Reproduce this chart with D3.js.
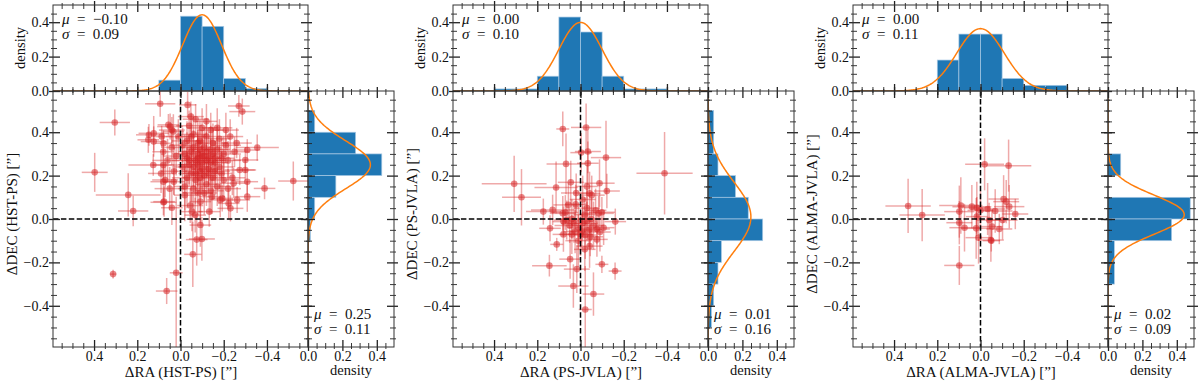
<!DOCTYPE html>
<html>
<head>
<meta charset="utf-8">
<title>Astrometric offsets</title>
<script src="https://cdn.jsdelivr.net/npm/d3@7"></script>
<style>
  body { margin: 0; background: #fff; }
  text { font-family: "Liberation Serif", "DejaVu Serif", serif; fill: #111; }
</style>
</head>
<body>
<svg id="mainsvg" width="1200" height="385"></svg>
<script>
// offsets: [dRA, dDEC, errRA, errDEC] in arcsec
const hstPs = [
  [0.304, 0.445, 0.070, 0.060], [0.397, 0.215, 0.060, 0.090], [0.242, 0.111, 0.150, 0.100],
  [0.219, 0.037, 0.070, 0.070], [0.312, -0.254, 0.015, 0.020], [0.020, -0.248, 0.030, 0.350],
  [0.064, -0.332, 0.050, 0.060], [-0.522, 0.175, 0.070, 0.090], [-0.389, 0.141, 0.050, 0.050],
  [-0.355, 0.329, 0.100, 0.060], [-0.309, 0.318, 0.060, 0.050], [-0.286, 0.495, 0.060, 0.060],
  [-0.270, 0.521, 0.050, 0.050], [0.094, 0.531, 0.070, 0.060], [-0.033, 0.526, 0.040, 0.060],
  [-0.048, 0.472, 0.060, 0.070], [0.056, 0.434, 0.050, 0.050], [0.040, 0.410, 0.060, 0.060],
  [0.124, 0.395, 0.070, 0.080], [0.087, 0.380, 0.050, 0.050], [0.124, 0.357, 0.060, 0.070],
  [0.079, 0.349, 0.040, 0.060], [0.146, 0.388, 0.060, 0.050], [0.149, 0.365, 0.050, 0.060],
  [0.033, 0.403, 0.050, 0.080], [0.048, 0.426, 0.060, 0.060], [0.126, 0.249, 0.115, 0.050],
  [0.079, 0.249, 0.050, 0.070], [0.079, 0.172, 0.060, 0.080], [0.071, 0.180, 0.060, 0.080],
  [0.031, 0.172, 0.050, 0.060], [0.076, 0.080, 0.050, 0.070], [0.079, 0.077, 0.060, 0.060],
  [0.040, 0.052, 0.050, 0.080], [-0.274, 0.226, 0.070, 0.070], [-0.309, 0.172, 0.050, 0.060],
  [-0.300, 0.226, 0.050, 0.050], [-0.300, 0.272, 0.060, 0.060], [-0.246, 0.165, 0.060, 0.070],
  [-0.223, 0.072, 0.050, 0.070], [-0.193, 0.095, 0.050, 0.060], [-0.309, 0.103, 0.060, 0.070],
  [-0.262, 0.088, 0.060, 0.060], [-0.231, 0.049, 0.060, 0.060], [-0.184, 0.088, 0.060, 0.080],
  [-0.146, 0.103, 0.060, 0.080], [-0.133, 0.034, 0.050, 0.070], [-0.092, 0.080, 0.050, 0.100],
  [-0.053, 0.034, 0.050, 0.090], [-0.045, 0.062, 0.060, 0.080], [-0.068, 0.018, 0.050, 0.080],
  [-0.092, -0.028, 0.050, 0.100], [-0.099, -0.092, 0.060, 0.100], [-0.075, -0.095, 0.050, 0.120],
  [-0.057, -0.163, 0.040, 0.150],
  [-0.020, 0.300, 0.060, 0.090], [-0.040, 0.270, 0.080, 0.120], [-0.060, 0.330, 0.050, 0.080],
  [-0.080, 0.250, 0.090, 0.140], [-0.100, 0.290, 0.060, 0.100], [-0.120, 0.310, 0.070, 0.090],
  [-0.140, 0.260, 0.080, 0.110], [-0.160, 0.280, 0.050, 0.080], [-0.180, 0.240, 0.070, 0.100],
  [-0.050, 0.210, 0.060, 0.130], [-0.070, 0.180, 0.050, 0.110], [-0.090, 0.220, 0.080, 0.090],
  [-0.110, 0.200, 0.060, 0.120], [-0.130, 0.230, 0.070, 0.080], [-0.150, 0.190, 0.050, 0.100],
  [-0.030, 0.360, 0.070, 0.090], [-0.060, 0.390, 0.060, 0.080], [-0.090, 0.360, 0.080, 0.100],
  [-0.120, 0.380, 0.050, 0.070], [-0.150, 0.350, 0.070, 0.090], [-0.170, 0.320, 0.060, 0.110],
  [-0.200, 0.300, 0.080, 0.080], [-0.220, 0.270, 0.060, 0.090], [-0.190, 0.210, 0.050, 0.100],
  [-0.210, 0.340, 0.070, 0.070], [-0.010, 0.240, 0.050, 0.120], [-0.030, 0.190, 0.070, 0.140],
  [-0.080, 0.300, 0.090, 0.100], [-0.100, 0.260, 0.060, 0.150], [-0.110, 0.330, 0.080, 0.090],
  [-0.130, 0.280, 0.060, 0.120], [-0.070, 0.270, 0.070, 0.080], [-0.050, 0.310, 0.060, 0.110],
  [-0.090, 0.190, 0.080, 0.130], [-0.120, 0.160, 0.050, 0.100], [-0.140, 0.410, 0.060, 0.080],
  [-0.160, 0.220, 0.070, 0.110], [-0.180, 0.370, 0.050, 0.090], [-0.040, 0.430, 0.060, 0.070],
  [-0.100, 0.420, 0.070, 0.090], [-0.020, 0.150, 0.050, 0.110], [-0.060, 0.140, 0.070, 0.130],
  [-0.110, 0.120, 0.060, 0.100], [-0.170, 0.150, 0.080, 0.090], [-0.240, 0.190, 0.060, 0.080],
  [-0.250, 0.310, 0.070, 0.070], [-0.230, 0.380, 0.060, 0.080], [-0.080, 0.350, 0.050, 0.100],
  [-0.140, 0.320, 0.080, 0.110], [-0.060, 0.240, 0.070, 0.090], [-0.100, 0.230, 0.060, 0.100],
  [-0.120, 0.270, 0.090, 0.080], [-0.150, 0.300, 0.060, 0.120], [-0.040, 0.250, 0.050, 0.090],
  [-0.080, 0.280, 0.070, 0.130], [-0.110, 0.290, 0.080, 0.100], [-0.090, 0.320, 0.060, 0.090],
  [-0.130, 0.210, 0.070, 0.110], [-0.070, 0.210, 0.060, 0.080], [-0.160, 0.260, 0.050, 0.100],
  [-0.030, 0.280, 0.080, 0.120], [-0.190, 0.280, 0.060, 0.090], [-0.200, 0.180, 0.070, 0.100],
  [-0.010, 0.340, 0.060, 0.080], [-0.050, 0.380, 0.070, 0.110], [-0.120, 0.450, 0.050, 0.080],
  [-0.070, 0.460, 0.060, 0.070], [-0.170, 0.420, 0.070, 0.090], [-0.210, 0.410, 0.060, 0.080],
  [-0.260, 0.350, 0.070, 0.070], [-0.220, 0.140, 0.060, 0.090], [-0.020, 0.110, 0.050, 0.120],
  [-0.080, 0.120, 0.070, 0.100], [-0.140, 0.130, 0.060, 0.110], [0.020, 0.290, 0.060, 0.090],
  [0.040, 0.330, 0.050, 0.080], [0.060, 0.270, 0.070, 0.100], [0.030, 0.220, 0.060, 0.110],
  [0.080, 0.310, 0.050, 0.090], [0.010, 0.380, 0.060, 0.080], [0.050, 0.140, 0.070, 0.100],
  [0.090, 0.210, 0.060, 0.090]
];

const psJvla = [
  [0.307, 0.162, 0.150, 0.130], [0.273, 0.100, 0.090, 0.130], [-0.389, 0.211, 0.130, 0.190],
  [0.082, 0.415, 0.030, 0.080], [-0.026, 0.422, 0.070, 0.110], [-0.034, 0.311, 0.060, 0.100],
  [-0.003, 0.306, 0.050, 0.090], [-0.118, 0.283, 0.070, 0.170], [0.067, 0.254, 0.090, 0.140],
  [-0.034, 0.257, 0.050, 0.100], [0.113, 0.145, 0.100, 0.120], [0.045, 0.169, 0.060, 0.100],
  [-0.088, 0.165, 0.070, 0.110], [-0.122, 0.129, 0.060, 0.080], [-0.042, 0.118, 0.050, 0.100],
  [-0.052, 0.110, 0.060, 0.090], [0.056, 0.065, 0.070, 0.100], [0.022, 0.068, 0.050, 0.090],
  [0.172, 0.034, 0.080, 0.060], [0.129, 0.042, 0.100, 0.070], [0.082, 0.026, 0.060, 0.080],
  [-0.084, 0.026, 0.070, 0.080], [-0.099, 0.031, 0.060, 0.070], [0.079, -0.012, 0.050, 0.070],
  [0.064, -0.005, 0.060, 0.090], [-0.161, -0.012, 0.050, 0.060], [-0.107, -0.040, 0.050, 0.080],
  [-0.076, -0.046, 0.060, 0.070], [0.141, -0.043, 0.050, 0.060], [0.079, -0.071, 0.050, 0.080],
  [0.040, -0.071, 0.060, 0.090], [0.025, -0.058, 0.050, 0.100], [-0.006, -0.055, 0.060, 0.080],
  [-0.022, -0.074, 0.050, 0.110], [-0.045, -0.082, 0.060, 0.090], [-0.076, -0.094, 0.050, 0.080],
  [-0.042, -0.125, 0.060, 0.100], [0.110, -0.117, 0.030, 0.030], [0.048, -0.185, 0.050, 0.090],
  [0.144, -0.215, 0.080, 0.050], [-0.099, -0.209, 0.030, 0.040], [-0.160, -0.240, 0.030, 0.040],
  [0.017, -0.231, 0.060, 0.110], [0.033, -0.309, 0.070, 0.100], [-0.060, -0.346, 0.050, 0.100],
  [-0.022, -0.417, 0.030, 0.200], [0.030, -0.020, 0.060, 0.090], [0.010, -0.040, 0.050, 0.100],
  [-0.010, -0.020, 0.070, 0.080], [-0.030, -0.010, 0.050, 0.090], [-0.050, 0.000, 0.060, 0.100],
  [-0.020, 0.020, 0.050, 0.080], [0.040, 0.000, 0.060, 0.090], [-0.060, -0.030, 0.050, 0.110],
  [0.010, -0.100, 0.060, 0.120], [-0.020, -0.140, 0.050, 0.100], [0.050, -0.030, 0.070, 0.080],
  [-0.030, 0.050, 0.060, 0.090], [-0.070, 0.040, 0.050, 0.100], [-0.010, 0.090, 0.060, 0.110],
  [0.020, 0.120, 0.070, 0.090], [-0.030, 0.150, 0.050, 0.100], [0.070, 0.030, 0.060, 0.080],
  [-0.090, -0.060, 0.050, 0.090], [0.000, -0.070, 0.060, 0.100], [-0.040, -0.050, 0.050, 0.080]
];

const almaJvla = [
  [0.335, 0.060, 0.105, 0.125], [0.270, 0.018, 0.105, 0.120], [-0.019, 0.252, 0.090, 0.120],
  [-0.130, 0.246, 0.105, 0.120], [0.098, -0.214, 0.070, 0.090], [0.091, 0.062, 0.100, 0.130],
  [0.098, 0.034, 0.070, 0.120], [0.098, -0.017, 0.060, 0.100], [0.074, -0.040, 0.070, 0.110],
  [0.040, 0.057, 0.090, 0.100], [0.017, 0.052, 0.060, 0.120], [0.020, -0.043, 0.070, 0.140],
  [0.009, -0.086, 0.060, 0.120], [0.017, 0.011, 0.050, 0.090], [-0.033, 0.046, 0.080, 0.120],
  [-0.040, -0.005, 0.060, 0.080], [-0.048, -0.097, 0.060, 0.100], [-0.053, -0.035, 0.050, 0.080],
  [-0.068, 0.037, 0.080, 0.100], [-0.087, -0.046, 0.060, 0.070], [-0.102, -0.005, 0.070, 0.090],
  [-0.107, 0.092, 0.070, 0.110], [-0.119, 0.080, 0.060, 0.100], [-0.133, 0.057, 0.070, 0.100],
  [-0.161, 0.023, 0.060, 0.070], [-0.050, -0.100, 0.040, 0.050], [0.000, 0.040, 0.060, 0.090]
];

// histogram bins (edges) and fractions
const raEdges = [
  [0.1, 0.0, -0.1, -0.2, -0.3, -0.4],
  [0.4, 0.3, 0.2, 0.1, 0.0, -0.1, -0.2, -0.3, -0.4],
  [0.2, 0.1, 0.0, -0.1, -0.2, -0.3, -0.4]
];
const raFrac = [
  [0.063, 0.435, 0.376, 0.073, 0.014],
  [0.012, 0.012, 0.086, 0.430, 0.343, 0.086, 0.012, 0.012],
  [0.180, 0.331, 0.331, 0.073, 0.033, 0.033]
];
const decEdges = [
  [0.5, 0.4, 0.3, 0.2, 0.1, 0.0, -0.1],
  [0.5, 0.4, 0.3, 0.2, 0.1, 0.0, -0.1, -0.2, -0.3, -0.4, -0.5],
  [0.3, 0.2, 0.1, 0.0, -0.1, -0.2, -0.3]
];
const decFrac = [
  [0.039, 0.277, 0.429, 0.162, 0.039, 0.014],
  [0.033, 0.033, 0.058, 0.160, 0.234, 0.318, 0.078, 0.058, 0.033, 0.020],
  [0.074, 0.000, 0.478, 0.370, 0.037, 0.037]
];
// gaussian fits [mu, sigma]
const raFit = [[-0.10, 0.09], [0.00, 0.10], [0.00, 0.11]];
const decFit = [[0.25, 0.11], [0.01, 0.16], [0.02, 0.09]];

const pairNames = ['HST-PS', 'PS-JVLA', 'ALMA-JVLA'];
const pairPoints = [hstPs, psJvla, almaJvla];
const posTicks = [0.4, 0.2, 0.0, -0.2, -0.4];
const densTicks = [0.0, 0.2, 0.4];
const binWidth = 0.1;

const svg = d3.select('#mainsvg');
const red = '#d62728', blue = '#1f77b4', orange = '#ff7f0e';
const fmt1 = d3.format('.1f'), fmt2 = d3.format('.2f');

const isMajor = (v, step) => Math.abs(v / step - Math.round(v / step)) < 1e-6;
const posMinor = d3.range(-11, 12).map(i => i * 0.05).filter(v => !isMajor(v, 0.2));
const densMinor = d3.range(1, 10).map(i => i * 0.05).filter(v => !isMajor(v, 0.2));

// ticks pointing inward with a short stub outward
function ticks(g, axisFn, scale, values, inLen, outLen, labels, width) {
  const ax = axisFn(scale).tickValues(values).tickSizeInner(-inLen).tickSizeOuter(0)
    .tickPadding(4).tickFormat(labels ? fmt1 : '');
  g.call(ax);
  g.select('.domain').remove();
  const k = (axisFn === d3.axisBottom || axisFn === d3.axisRight) ? 1 : -1;
  const vert = (axisFn === d3.axisBottom || axisFn === d3.axisTop);
  g.selectAll('.tick line').attr(vert ? 'y1' : 'x1', k * outLen)
    .attr('stroke', '#222').attr('stroke-width', width);
  g.selectAll('.tick text').attr('font-size', 14)
    .attr('font-family', '"Liberation Serif", serif').attr('fill', '#222');
  g.attr('font-family', null).attr('font-size', null);
}

function allTicks(parent, x, y, box, xLabels, yLabels, xMaj, xMin, yMaj, yMin) {
  const specs = [
    [d3.axisBottom, x, `translate(0,${box.b})`, xLabels],
    [d3.axisTop, x, `translate(0,${box.t})`, false],
    [d3.axisLeft, y, `translate(${box.l},0)`, yLabels],
    [d3.axisRight, y, `translate(${box.r},0)`, false]
  ];
  specs.forEach(([fn, sc, tr, lab]) => {
    const horiz = (fn === d3.axisBottom || fn === d3.axisTop);
    parent.append('g').attr('transform', tr)
      .call(g => ticks(g, fn, sc, horiz ? xMin : yMin, 4, 2, false, 0.9));
    parent.append('g').attr('transform', tr)
      .call(g => ticks(g, fn, sc, horiz ? xMaj : yMaj, 7, 4, lab, 1.3));
  });
  parent.append('rect').attr('x', box.l).attr('y', box.t)
    .attr('width', box.r - box.l).attr('height', box.b - box.t)
    .attr('fill', 'none').attr('stroke', '#333').attr('stroke-width', 1);
}

function statText(g, x, y, fit) {
  [['μ', fit[0]], ['σ', fit[1]]].forEach(([sym, v], i) => {
    const t = g.append('text').attr('x', x).attr('y', y + i * 15).attr('font-size', 15);
    t.append('tspan').attr('font-style', 'italic').text(sym);
    t.append('tspan').text('\u2002=\u2002' + fmt2(v));
  });
}

const gauss = (v, fit) => binWidth / (fit[1] * Math.sqrt(2 * Math.PI)) *
  Math.exp(-0.5 * ((v - fit[0]) / fit[1]) ** 2);
const grid = d3.range(-120, 121).map(i => i * 0.005);

pairNames.forEach((name, p) => {
  const ox = p * 400;
  const main = {l: ox + 53, r: ox + 308, t: 91, b: 347};
  const topBox = {l: ox + 53, r: ox + 308, t: 5, b: 91};
  const sideBox = {l: ox + 308, r: ox + 394, t: 91, b: 347};

  const x = d3.scaleLinear().domain([0.59, -0.59]).range([main.l, main.r]);
  const y = d3.scaleLinear().domain([-0.59, 0.59]).range([main.b, main.t]);
  const hy = d3.scaleLinear().domain([0, 0.5]).range([topBox.b, topBox.t]);
  const hx = d3.scaleLinear().domain([0, 0.5]).range([sideBox.l, sideBox.r]);

  const g = svg.append('g');
  const clip = (id, b) => svg.append('clipPath').attr('id', id).append('rect')
    .attr('x', b.l).attr('y', b.t).attr('width', b.r - b.l).attr('height', b.b - b.t);
  clip('cm' + p, main); clip('ct' + p, topBox); clip('cs' + p, sideBox);

  // scatter with error bars
  const sc = g.append('g').attr('clip-path', `url(#cm${p})`);
  const pts = pairPoints[p];
  sc.selectAll('line.ex').data(pts).join('line').attr('class', 'ex')
    .attr('x1', d => x(d[0] - d[2])).attr('x2', d => x(d[0] + d[2]))
    .attr('y1', d => y(d[1])).attr('y2', d => y(d[1]))
    .attr('stroke', red).attr('stroke-opacity', 0.4).attr('stroke-width', 1.5);
  sc.selectAll('line.ey').data(pts).join('line').attr('class', 'ey')
    .attr('x1', d => x(d[0])).attr('x2', d => x(d[0]))
    .attr('y1', d => y(d[1] - d[3])).attr('y2', d => y(d[1] + d[3]))
    .attr('stroke', red).attr('stroke-opacity', 0.4).attr('stroke-width', 1.5);
  sc.selectAll('circle').data(pts).join('circle')
    .attr('cx', d => x(d[0])).attr('cy', d => y(d[1])).attr('r', 3.3)
    .attr('fill', red).attr('fill-opacity', 0.55);
  sc.append('line').attr('x1', x(0)).attr('x2', x(0)).attr('y1', main.t).attr('y2', main.b)
    .attr('stroke', '#000').attr('stroke-width', 1.5).attr('stroke-dasharray', '5.5,2.4');
  sc.append('line').attr('x1', main.l).attr('x2', main.r).attr('y1', y(0)).attr('y2', y(0))
    .attr('stroke', '#000').attr('stroke-width', 1.5).attr('stroke-dasharray', '5.5,2.4');

  // top marginal histogram (RA)
  const th = g.append('g').attr('clip-path', `url(#ct${p})`);
  const re = raEdges[p];
  th.selectAll('rect').data(raFrac[p]).join('rect')
    .attr('x', (d, i) => Math.min(x(re[i]), x(re[i + 1])))
    .attr('width', (d, i) => Math.abs(x(re[i + 1]) - x(re[i])))
    .attr('y', d => hy(d)).attr('height', d => hy(0) - hy(d))
    .attr('fill', blue).attr('stroke', '#a9c9e4').attr('stroke-width', 0.7);
  th.append('path').datum(grid)
    .attr('d', d3.line().x(v => x(v)).y(v => hy(gauss(v, raFit[p]))))
    .attr('fill', 'none').attr('stroke', orange).attr('stroke-width', 1.5);

  // side marginal histogram (DEC)
  const sh = g.append('g').attr('clip-path', `url(#cs${p})`);
  const de = decEdges[p];
  sh.selectAll('rect').data(decFrac[p]).join('rect')
    .attr('y', (d, i) => Math.min(y(de[i]), y(de[i + 1])))
    .attr('height', (d, i) => Math.abs(y(de[i + 1]) - y(de[i])))
    .attr('x', hx(0)).attr('width', d => hx(d) - hx(0))
    .attr('fill', blue).attr('stroke', '#a9c9e4').attr('stroke-width', 0.7)
    .attr('display', d => d > 0 ? null : 'none');
  sh.append('path').datum(grid)
    .attr('d', d3.line().y(v => y(v)).x(v => hx(gauss(v, decFit[p]))))
    .attr('fill', 'none').attr('stroke', orange).attr('stroke-width', 1.5);

  // frames and ticks
  allTicks(g, x, y, main, true, true, posTicks, posMinor, posTicks, posMinor);
  allTicks(g, x, hy, topBox, false, true, posTicks, posMinor, densTicks, densMinor);
  allTicks(g, hx, y, sideBox, true, false, densTicks, densMinor, posTicks, posMinor);

  // labels
  g.append('text').attr('transform', `translate(${ox + 17},214) rotate(-90)`)
    .attr('text-anchor', 'middle').attr('font-size', 15).text(`ΔDEC (${name}) [”]`);
  g.append('text').attr('x', ox + 181).attr('y', 377)
    .attr('text-anchor', 'middle').attr('font-size', 15).text(`ΔRA (${name}) [”]`);
  g.append('text').attr('transform', `translate(${ox + 25},48) rotate(-90)`)
    .attr('text-anchor', 'middle').attr('font-size', 14.5).text('density');
  g.append('text').attr('x', ox + 351).attr('y', 375)
    .attr('text-anchor', 'middle').attr('font-size', 14.5).text('density');

  statText(g, ox + 62, 24, raFit[p]);
  statText(g, ox + 314, 319, decFit[p]);
});
</script>
</body>
</html>
